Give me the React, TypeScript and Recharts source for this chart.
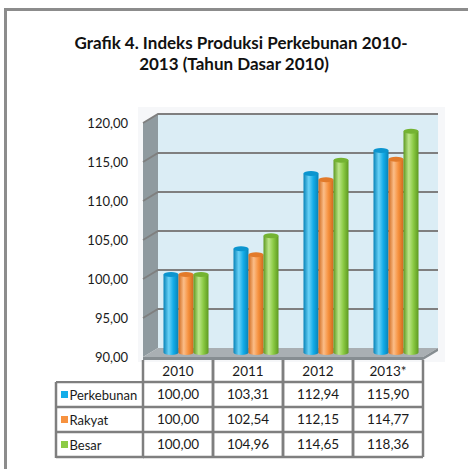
import React from "react";
import {
  BarChart,
  Bar,
  XAxis,
  YAxis,
  ReferenceArea,
  Legend,
} from "recharts";

const years = ["2010", "2011", "2012", "2013*"];
const perkebunan = [100.0, 103.31, 112.94, 115.9];
const rakyat = [100.0, 102.54, 112.15, 114.77];
const besar = [100.0, 104.96, 114.65, 118.36];
const seriesNames = ["Perkebunan", "Rakyat", "Besar"];
const yTicks = [90, 95, 100, 105, 110, 115, 120];

const data = years.map((year, i) => ({
  year,
  Perkebunan: perkebunan[i],
  Rakyat: rakyat[i],
  Besar: besar[i],
}));
const seriesValues = [perkebunan, rakyat, besar];

const palette: Record<string, { base: string; dark: string; light: string; top: string }> = {
  Perkebunan: { base: "#14ade9", dark: "#0783b8", light: "#6cd2f6", top: "#0b95cf" },
  Rakyat: { base: "#f7923f", dark: "#cf6a1e", light: "#fbbd88", top: "#e27a2a" },
  Besar: { base: "#8ccb45", dark: "#5e9a20", light: "#bde68a", top: "#74b332" },
};

// 3d depth of the plot box
const DX = 15;
const DY = 9;
const PLOT_W = 280;
const COL = PLOT_W / years.length;
const FONT = "Lato, 'Open Sans', sans-serif";
const LINE = "#7f7f7f";

const fmt = (v: number) => v.toFixed(2).replace(".", ",");

function Gradients() {
  return (
    <svg width={0} height={0} style={{ position: "absolute" }}>
      <defs>
        {seriesNames.map((s) => (
          <linearGradient key={s} id={`cyl-${s}`} x1="0" y1="0" x2="1" y2="0">
            <stop offset="0%" stopColor={palette[s].dark} />
            <stop offset="35%" stopColor={palette[s].light} />
            <stop offset="65%" stopColor={palette[s].base} />
            <stop offset="100%" stopColor={palette[s].dark} />
          </linearGradient>
        ))}
      </defs>
    </svg>
  );
}

function Cylinder(props: any) {
  const { x, y, width, height, series } = props;
  if (height == null || isNaN(height)) return null;
  const left = x + DX / 2;
  const top = y - DY / 2;
  const rx = width / 2;
  const ry = 2.5;
  const bottom = top + height;
  return (
    <g>
      <path
        d={`M${left},${top} L${left},${bottom} A${rx},${ry} 0 0 0 ${left + width},${bottom} L${left + width},${top} Z`}
        fill={`url(#cyl-${series})`}
      />
      <ellipse cx={left + rx} cy={top} rx={rx} ry={ry} fill={palette[series].top} />
    </g>
  );
}

function Walls(props: any) {
  const { x, y, width: w, height: h } = props;
  const yMin = yTicks[0];
  const yMax = yTicks[yTicks.length - 1];
  const yOf = (v: number) => y + ((yMax - v) / (yMax - yMin)) * h;
  return (
    <g>
      <rect x={x - 5} y={y - DY - 7} width={w + DX + 12} height={h + DY + 12} fill="#f6f7f9" />
      <rect x={x + DX} y={y - DY} width={w} height={h} fill="#dbedf5" />
      <polygon
        points={`${x},${y} ${x + DX},${y - DY} ${x + DX},${y + h - DY} ${x},${y + h}`}
        fill="#8f9a9f"
      />
      <polygon
        points={`${x},${y + h} ${x + DX},${y + h - DY} ${x + w + DX},${y + h - DY} ${x + w},${y + h}`}
        fill="#a9afb3"
      />
      <polygon
        points={`${x},${y + h} ${x + w},${y + h} ${x + w + DX},${y + h - DY} ${x + w + DX},${y + h - DY + 3} ${x + w},${y + h + 3} ${x},${y + h + 3}`}
        fill="#868d91"
      />
      {yTicks.slice(1).map((v) => {
        const yy = yOf(v);
        return (
          <polyline
            key={v}
            points={`${x},${yy} ${x + DX},${yy - DY} ${x + w + DX},${yy - DY}`}
            fill="none"
            stroke={LINE}
            strokeWidth={1.8}
          />
        );
      })}
    </g>
  );
}

function YTick(props: any) {
  const { x, y, payload } = props;
  return (
    <text
      x={x - 15}
      y={y + 5}
      textAnchor="end"
      fontFamily={FONT}
      fontSize={13}
      fill="#1a1a1a"
    >
      {fmt(payload.value)}
    </text>
  );
}

function TableColumn(props: any) {
  const { x, y, payload, index } = props;
  const i = index ?? payload.index ?? years.indexOf(payload.value);
  const left = x - COL / 2;
  const top = y + 3;
  const rows = [top, top + 22, top + 47, top + 72, top + 97];
  return (
    <g fontFamily={FONT} fontSize={13.5} fill="#1a1a1a">
      <line x1={left} y1={top} x2={left} y2={rows[4]} stroke={LINE} strokeWidth={2.5} />
      <line x1={left + COL} y1={top} x2={left + COL} y2={rows[4]} stroke={LINE} strokeWidth={2.5} />
      {rows.slice(1).map((r) => (
        <line key={r} x1={left} y1={r} x2={left + COL} y2={r} stroke={LINE} strokeWidth={2.5} />
      ))}
      <text x={x} y={rows[0] + 16} textAnchor="middle">
        {payload.value}
      </text>
      {seriesValues.map((vals, k) => (
        <text key={k} x={x} y={rows[k + 1] + 17} textAnchor="middle">
          {fmt(vals[i])}
        </text>
      ))}
    </g>
  );
}

function LegendColumn(props: any) {
  const items = props.payload || [];
  const colorOf = (name: string) =>
    items.find((it: any) => it.value === name)?.color ?? palette[name].base;
  return (
    <svg width={92} height={80} style={{ display: "block" }}>
      <g fontFamily={FONT} fontSize={13} fill="#1a1a1a">
        <line x1={2} y1={1} x2={2} y2={77} stroke={LINE} strokeWidth={2.5} />
        {[1, 26, 51, 76].map((r) => (
          <line key={r} x1={2} y1={r} x2={90} y2={r} stroke={LINE} strokeWidth={2.5} />
        ))}
        {seriesNames.map((name, k) => (
          <g key={name}>
            <rect x={7} y={k * 25 + 10} width={7} height={7} fill={colorOf(name)} />
            <text x={15.5} y={k * 25 + 19}>
              {name}
            </text>
          </g>
        ))}
      </g>
    </svg>
  );
}

const titleStyle: React.CSSProperties = {
  position: "absolute",
  left: 0,
  textAlign: "center",
  fontFamily: FONT,
  fontWeight: 700,
  fontSize: 17,
  color: "#111",
  lineHeight: "21px",
};

export default function App() {
  return (
    <div
      style={{
        position: "absolute",
        left: 0,
        top: 0,
        width: 468,
        height: 469,
        overflow: "hidden",
        background: "#fff",
      }}
    >
      <Gradients />
      <div
        style={{
          position: "absolute",
          left: 4,
          top: 8,
          width: 520,
          height: 520,
          border: "3px solid #8c8c8c",
        }}
      />
      <div style={{ ...titleStyle, top: 32, width: 482 }}>
        Grafik 4. Indeks Produksi Perkebunan 2010-
      </div>
      <div style={{ ...titleStyle, top: 53, width: 468 }}>
        2013 (Tahun Dasar 2010)
      </div>
      <div style={{ position: "absolute", left: 0, top: 0 }}>
        <BarChart
          width={468}
          height={469}
          data={data}
          margin={{ top: 123, right: 45, bottom: 12, left: 83 }}
          barGap={0}
          barSize={15}
        >
          <ReferenceArea y1={yTicks[0]} y2={yTicks[yTicks.length - 1]} shape={<Walls />} ifOverflow="visible" />
          <XAxis
            dataKey="year"
            axisLine={false}
            tickLine={false}
            tickSize={0}
            tickMargin={0}
            height={100}
            interval={0}
            tick={<TableColumn />}
          />
          <YAxis
            domain={[yTicks[0], yTicks[yTicks.length - 1]]}
            ticks={yTicks}
            axisLine={false}
            tickLine={false}
            tickSize={0}
            tickMargin={0}
            width={60}
            tick={<YTick />}
            allowDataOverflow
          />
          <Legend
            layout="horizontal"
            verticalAlign="middle"
            align="center"
            content={<LegendColumn />}
            wrapperStyle={{ position: "absolute", left: 54, top: 381, width: 92, height: 80 }}
          />
          {seriesNames.map((s) => (
            <Bar
              key={s}
              dataKey={s}
              fill={palette[s].base}
              isAnimationActive={false}
              shape={(p: any) => <Cylinder {...p} series={s} />}
            />
          ))}
        </BarChart>
      </div>
    </div>
  );
}
